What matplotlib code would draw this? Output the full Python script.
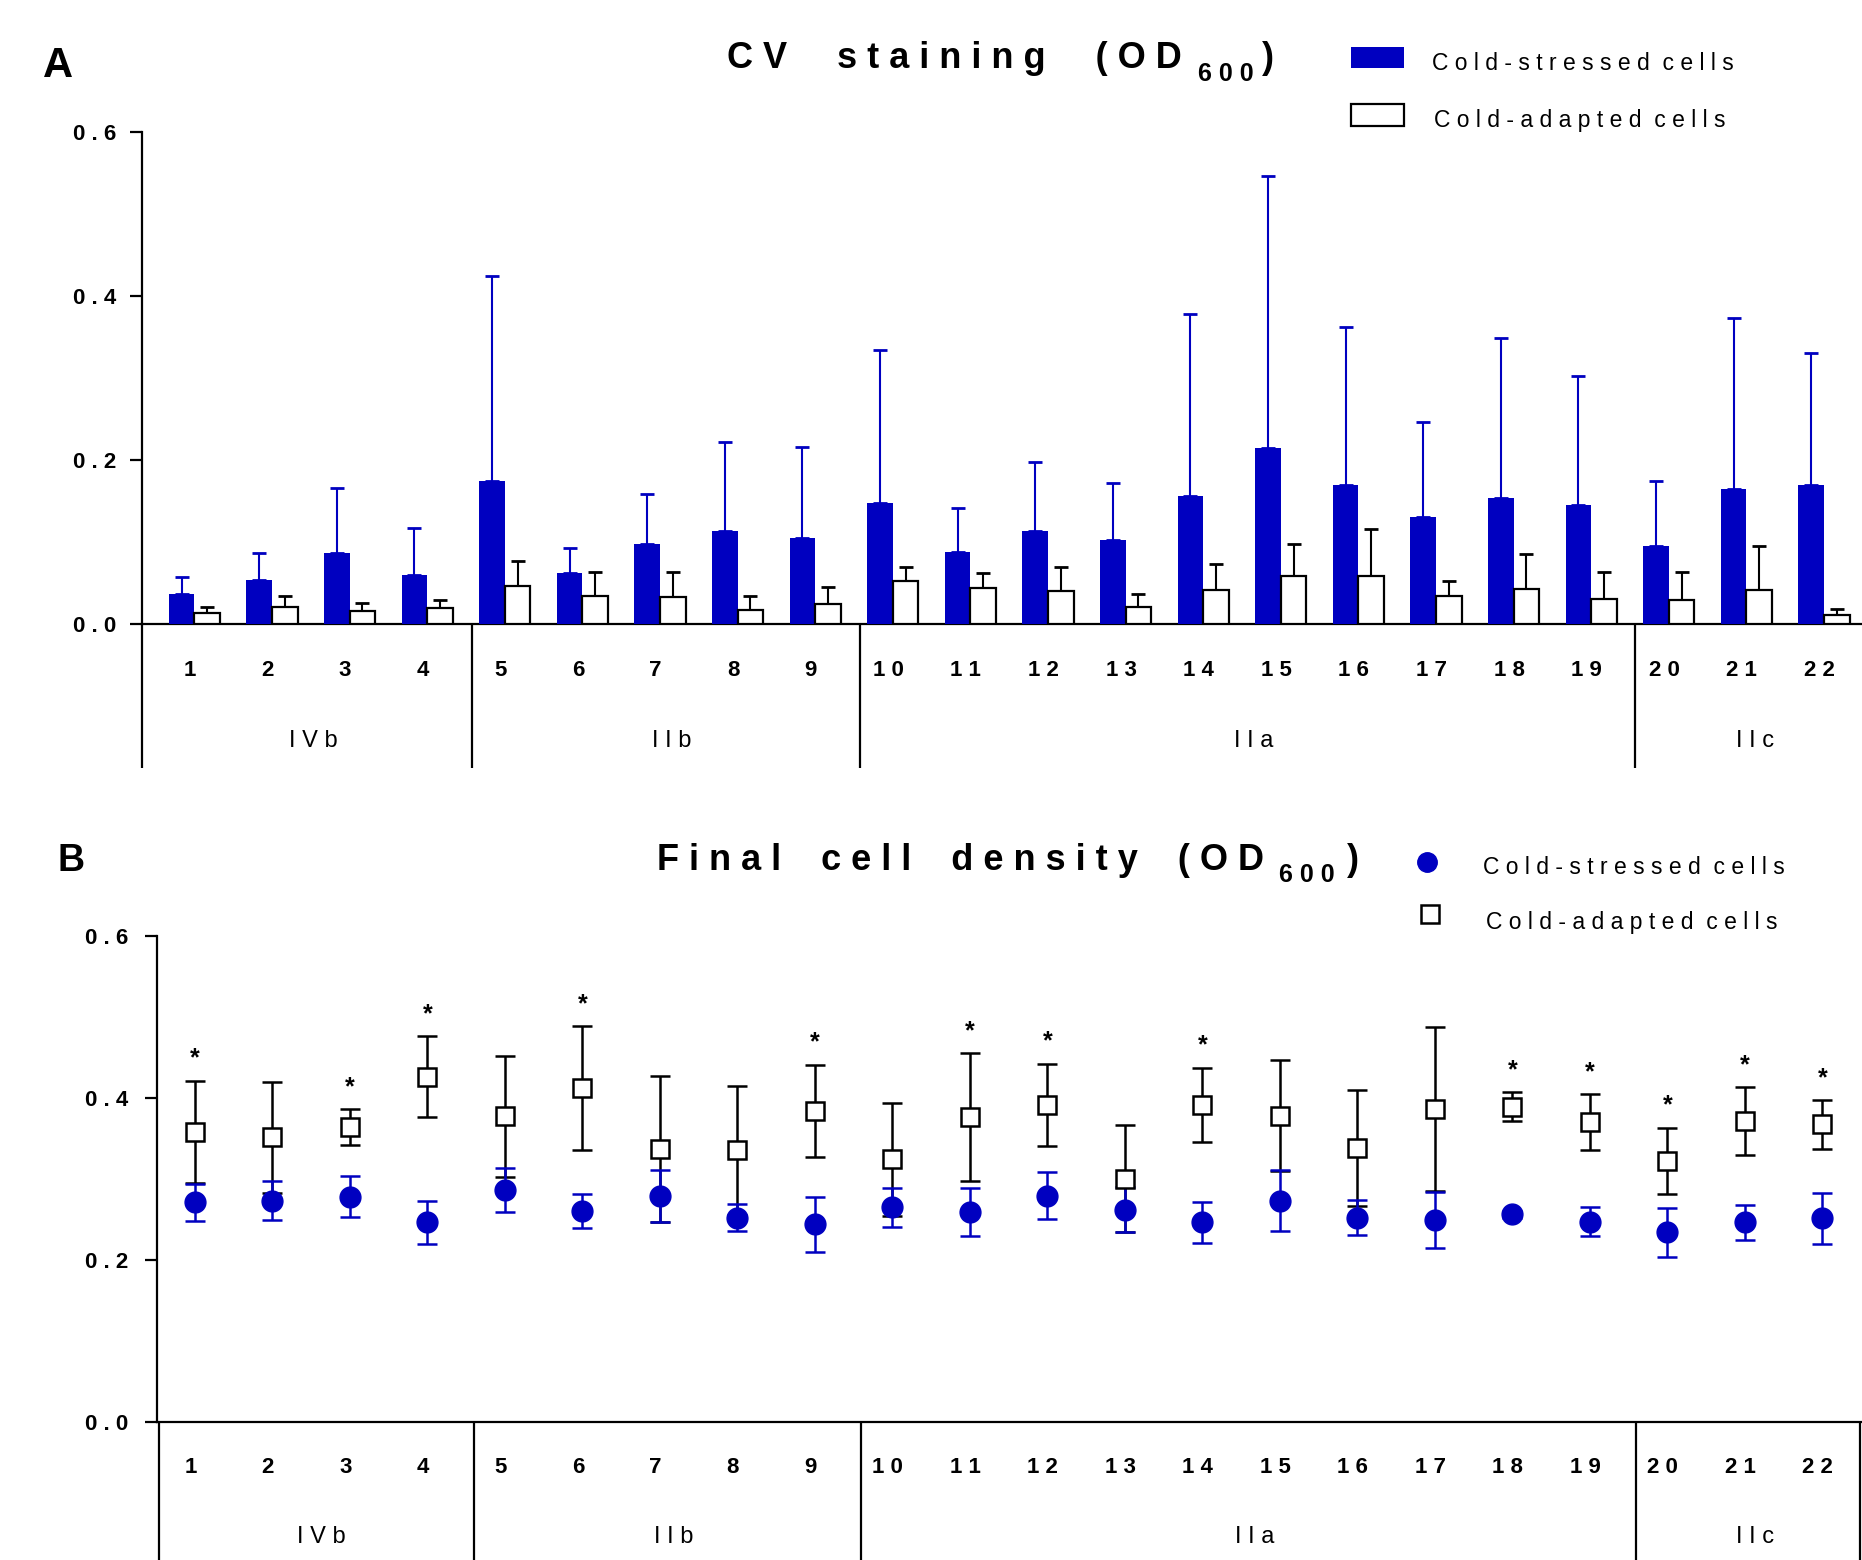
"""
Biofilm (CV staining) and final cell density of cold-stressed vs cold-adapted cells.
"""

import matplotlib
matplotlib.use("Agg")
import matplotlib.patches as patches
import matplotlib.pyplot as plt
import numpy as np
from matplotlib.lines import Line2D

plt.rcParams["font.family"] = ["Liberation Sans", "DejaVu Sans"]

# ---- data -----------------------------------------------------------------
strains = [str(i) for i in range(1, 23)]
groups = ["IVb", "IIb", "IIa", "IIc"]
group_sizes = [4, 5, 10, 3]

# panel A: CV staining (OD600), mean and SD
cv_stressed = [0.037, 0.054, 0.086, 0.060, 0.175, 0.062, 0.097, 0.113, 0.105, 0.147, 0.088,
               0.113, 0.103, 0.156, 0.215, 0.170, 0.130, 0.154, 0.145, 0.095, 0.165, 0.169]
cv_stressed_sd = [0.020, 0.032, 0.080, 0.057, 0.249, 0.031, 0.061, 0.109, 0.111, 0.187, 0.054,
                  0.085, 0.069, 0.222, 0.331, 0.192, 0.116, 0.195, 0.157, 0.080, 0.208, 0.162]
cv_adapted = [0.013, 0.021, 0.016, 0.020, 0.046, 0.034, 0.033, 0.017, 0.025, 0.052, 0.044,
              0.040, 0.021, 0.042, 0.058, 0.059, 0.034, 0.043, 0.031, 0.029, 0.041, 0.011]
cv_adapted_sd = [0.008, 0.013, 0.010, 0.009, 0.031, 0.029, 0.030, 0.017, 0.020, 0.017, 0.018,
                 0.029, 0.016, 0.031, 0.039, 0.057, 0.019, 0.042, 0.033, 0.035, 0.054, 0.007]

# panel B: final cell density (OD600), mean and SD
od_stressed = [0.271, 0.273, 0.278, 0.246, 0.286, 0.260, 0.279, 0.252, 0.244, 0.265, 0.259,
               0.279, 0.262, 0.246, 0.273, 0.252, 0.249, 0.256, 0.247, 0.234, 0.246, 0.251]
od_stressed_sd = [0.023, 0.024, 0.025, 0.027, 0.027, 0.021, 0.032, 0.017, 0.034, 0.024, 0.030,
                  0.029, 0.028, 0.025, 0.038, 0.022, 0.035, 0.004, 0.018, 0.030, 0.022, 0.031]
od_adapted = [0.358, 0.351, 0.364, 0.426, 0.377, 0.412, 0.337, 0.335, 0.384, 0.324, 0.376,
              0.391, 0.300, 0.391, 0.378, 0.338, 0.386, 0.389, 0.370, 0.322, 0.371, 0.367]
od_adapted_sd = [0.063, 0.069, 0.022, 0.050, 0.075, 0.076, 0.090, 0.080, 0.057, 0.070, 0.079,
                 0.051, 0.066, 0.046, 0.068, 0.072, 0.101, 0.018, 0.034, 0.041, 0.042, 0.030]
od_signif = [1, 0, 1, 1, 0, 1, 0, 0, 1, 0, 1, 1, 0, 1, 0, 0, 0, 1, 1, 1, 1, 1]

yticks = [0.0, 0.2, 0.4, 0.6]

BLUE = "#0000C0"
W, H = 1862, 1560


def spaced(s, gap=" ", word_gap="   "):
    """Imitate the wide letter spacing of the original figure."""
    return word_gap.join(gap.join(w) for w in s.split(" "))


def style_axis(ax, xlim, tick_pad):
    ax.set_xlim(*xlim)
    ax.set_ylim(0, 0.6)
    for side in ("top", "right"):
        ax.spines[side].set_visible(False)
    for side in ("left", "bottom"):
        ax.spines[side].set_linewidth(1.6)
    ax.set_xticks([])
    ax.set_yticks(yticks)
    ax.set_yticklabels([spaced(f"{t:.1f}") for t in yticks],
                       fontsize=16, fontweight="bold")
    ax.tick_params(axis="y", length=9, width=1.6, pad=tick_pad)


def draw_categories(ax, xlim, lab_y, grp_y, line_y, left_line, dividers, right_line=False):
    tr = ax.get_xaxis_transform()
    for xi, s in zip(x, strains):
        ax.text(xi - 0.06, lab_y, spaced(s), transform=tr, ha="center", va="center",
                fontsize=16, fontweight="bold", clip_on=False)
    bounds = [xlim[0]] + list(dividers) + [xlim[1]]
    for g, lo, hi in zip(groups, bounds[:-1], bounds[1:]):
        ax.text((lo + hi) / 2 + 0.08, grp_y, spaced(g, word_gap=" "), transform=tr,
                ha="center", va="center", fontsize=17, clip_on=False)
    vlines = [left_line] + list(dividers)
    if right_line:
        vlines.append(xlim[1] - 0.03)
    for xv in vlines:
        ax.plot([xv, xv], [0, line_y], transform=tr, color="black",
                lw=1.6, clip_on=False, solid_capstyle="butt")


def title_with_sub(fig, x_px, base_px, sub_base_px, main, sub_gap, close_gap,
                   word_gap="    ", size=26):
    t1 = fig.text(x_px / W, 1 - base_px / H, spaced(main, " ", word_gap),
                  fontsize=size, fontweight="bold", va="baseline", ha="left")
    t2 = fig.axes[0].annotate(spaced("600"), xy=(1, H - sub_base_px),
                              xycoords=(t1, "figure pixels"),
                              xytext=(sub_gap, 0), textcoords="offset points",
                              fontsize=18, fontweight="bold", va="baseline", ha="left",
                              annotation_clip=False)
    fig.axes[0].annotate(")", xy=(1, H - base_px), xycoords=(t2, "figure pixels"),
                         xytext=(close_gap, 0), textcoords="offset points",
                         fontsize=size, fontweight="bold", va="baseline", ha="left",
                         annotation_clip=False)


x = np.arange(1, len(strains) + 1)
cum = np.cumsum(group_sizes)[:-1]

fig = plt.figure(figsize=(W / 100, H / 100), dpi=100)

# ---- panel A: bars ----------------------------------------------------------
xlimA = (0.3235, 22.489)
axA = fig.add_axes([142 / W, 1 - 624 / H, 1 - 142 / W, 492 / H])
w = 0.33
zeros = np.zeros(len(x))
axA.bar(x - w / 2, cv_stressed, w, color=BLUE, zorder=3)
axA.errorbar(x - w / 2, cv_stressed, yerr=[zeros, cv_stressed_sd], fmt="none",
             ecolor=BLUE, elinewidth=1.5, capsize=5, capthick=2, zorder=2)
axA.bar(x + w / 2, cv_adapted, w, color="white", edgecolor="black", linewidth=1.6, zorder=3)
axA.errorbar(x + w / 2, cv_adapted, yerr=[zeros, cv_adapted_sd], fmt="none",
             ecolor="black", elinewidth=1.5, capsize=5, capthick=2, zorder=2)
style_axis(axA, xlimA, tick_pad=9.5)
draw_categories(axA, xlimA, -0.0955, -0.2378, -0.2927, xlimA[0], cum + 0.57)

fig.text(43 / W, 1 - 77 / H, "A", fontsize=30, fontweight="bold", va="baseline")
title_with_sub(fig, 727, 68, 81, "CV staining (OD", 12, 6, word_gap="     ")

fig.add_artist(patches.Rectangle((1351 / W, 1 - 68 / H), 53 / W, 21 / H,
                                 facecolor=BLUE, edgecolor="none",
                                 transform=fig.transFigure))
fig.add_artist(patches.Rectangle((1351 / W, 1 - 126 / H), 53 / W, 22 / H,
                                 facecolor="white", edgecolor="black", lw=1.6,
                                 transform=fig.transFigure))
fig.text(1432 / W, 1 - 63 / H, spaced("Cold-stressed cells", word_gap="  "),
         fontsize=16.5, va="center")
fig.text(1434 / W, 1 - 120 / H, spaced("Cold-adapted cells", word_gap="  "),
         fontsize=16.5, va="center")

# ---- panel B: points --------------------------------------------------------
xlimB = (0.506, 22.51)
axB = fig.add_axes([156.7 / W, 138.2 / H, 1 - 156.7 / W, 486.1 / H])
axB.errorbar(x, od_adapted, yerr=od_adapted_sd, fmt="none", ecolor="black",
             elinewidth=1.8, capsize=7, capthick=1.8, zorder=2)
axB.errorbar(x, od_stressed, yerr=od_stressed_sd, fmt="o", color=BLUE, ms=15,
             ecolor=BLUE, elinewidth=1.8, capsize=7, capthick=1.8, zorder=3)
axB.plot(x, od_adapted, "s", ms=13.5, mfc="white", mec="black", mew=1.8,
         linestyle="none", zorder=4)
for xi, m, s, sig in zip(x, od_adapted, od_adapted_sd, od_signif):
    if sig:
        axB.annotate("*", xy=(xi, m + s), xytext=(0, 16), textcoords="offset points",
                     ha="center", va="center", fontsize=18, fontweight="bold")
style_axis(axB, xlimB, tick_pad=11.5)
draw_categories(axB, xlimB, -0.095, -0.237, -0.2843, 0.535, cum + 0.6, right_line=True)

fig.text(57 / W, 1 - 871 / H, "B", fontsize=27, fontweight="bold", va="baseline")
title_with_sub(fig, 657, 870, 882, "Final cell density (OD", 11, 9)

fig.add_artist(Line2D([1427 / W], [1 - 862 / H], marker="o", ms=14, color=BLUE,
                      transform=fig.transFigure))
fig.add_artist(Line2D([1430 / W], [1 - 914 / H], marker="s", ms=13, mfc="white",
                      mec="black", mew=1.8, transform=fig.transFigure))
fig.text(1483 / W, 1 - 868 / H, spaced("Cold-stressed cells", word_gap="  "),
         fontsize=16.5, va="center")
fig.text(1486 / W, 1 - 923 / H, spaced("Cold-adapted cells", word_gap="  "),
         fontsize=16.5, va="center")

fig.savefig("out.png", dpi=100, facecolor="white")
